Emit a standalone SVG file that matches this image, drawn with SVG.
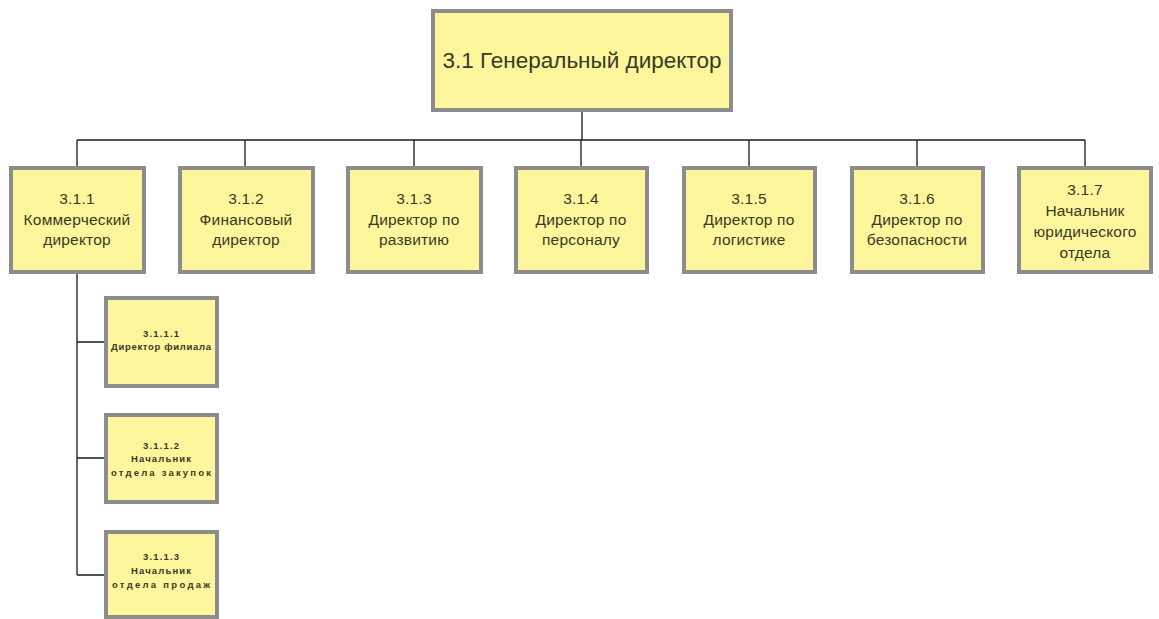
<svg xmlns="http://www.w3.org/2000/svg" width="1159" height="619" viewBox="0 0 1159 619">
<style>
.box{fill:#fdf69c;stroke:#8c8c8c;stroke-width:4}
.t{font-family:"Liberation Sans",Arial,sans-serif;fill:#3a3a24;text-anchor:middle}
.top{font-size:22.5px}
.mid{font-size:15.5px;letter-spacing:0.2px}
.sm{font-size:9.5px;font-weight:bold}
.ln{fill:none;stroke:#1a1a1a;stroke-width:1.3}
</style>
<rect width="1159" height="619" fill="#ffffff"/>
<g id="connectors">
<path class="ln" d="M582,110 V140 M77,140 H1085 M77,140 V167 M245,140 V167 M414,140 V167 M581,140 V167 M749,140 V167 M917,140 V167 M1085,140 V167"/>
<path class="ln" d="M77,272 V575 M77,342 H105 M77,458 H105 M77,575 H105"/>
</g>
<g id="n31">
<rect class="box" x="433" y="11" width="298" height="99"/>
<text class="t top" x="582" y="68">3.1 Генеральный директор</text>
</g>
<g id="n311">
<rect class="box" x="11" y="168" width="133" height="104"/>
<text class="t mid" x="77" y="204">3.1.1</text>
<text class="t mid" x="77" y="225">Коммерческий</text>
<text class="t mid" x="77" y="245">директор</text>
</g>
<g id="n312">
<rect class="box" x="180" y="168" width="133" height="104"/>
<text class="t mid" x="246" y="204">3.1.2</text>
<text class="t mid" x="246" y="225">Финансовый</text>
<text class="t mid" x="246" y="245">директор</text>
</g>
<g id="n313">
<rect class="box" x="348" y="168" width="133" height="104"/>
<text class="t mid" x="414" y="204">3.1.3</text>
<text class="t mid" x="414" y="225">Директор по</text>
<text class="t mid" x="414" y="245">развитию</text>
</g>
<g id="n314">
<rect class="box" x="516" y="168" width="131" height="104"/>
<text class="t mid" x="581" y="204">3.1.4</text>
<text class="t mid" x="581" y="225">Директор по</text>
<text class="t mid" x="581" y="245">персоналу</text>
</g>
<g id="n315">
<rect class="box" x="684" y="168" width="131" height="104"/>
<text class="t mid" x="749" y="204">3.1.5</text>
<text class="t mid" x="749" y="225">Директор по</text>
<text class="t mid" x="749" y="245">логистике</text>
</g>
<g id="n316">
<rect class="box" x="852" y="168" width="131" height="104"/>
<text class="t mid" x="917" y="204">3.1.6</text>
<text class="t mid" x="917" y="225">Директор по</text>
<text class="t mid" x="917" y="245">безопасности</text>
</g>
<g id="n317">
<rect class="box" x="1019" y="168" width="132" height="104"/>
<text class="t mid" x="1085" y="195">3.1.7</text>
<text class="t mid" x="1085" y="216">Начальник</text>
<text class="t mid" x="1085" y="237">юридического</text>
<text class="t mid" x="1085" y="258">отдела</text>
</g>
<g id="n3111">
<rect class="box" x="106" y="298" width="111" height="88"/>
<text class="t sm" x="161" y="337" textLength="36" lengthAdjust="spacing">3.1.1.1</text>
<text class="t sm" x="161" y="350" textLength="100" lengthAdjust="spacing">Директор филиала</text>
</g>
<g id="n3112">
<rect class="box" x="106" y="415" width="111" height="87"/>
<text class="t sm" x="161" y="449" textLength="36" lengthAdjust="spacing">3.1.1.2</text>
<text class="t sm" x="161" y="462" textLength="60" lengthAdjust="spacing">Начальник</text>
<text class="t sm" x="161" y="476" textLength="100" lengthAdjust="spacing">отдела закупок</text>
</g>
<g id="n3113">
<rect class="box" x="106" y="532" width="111" height="85"/>
<text class="t sm" x="161" y="560" textLength="36" lengthAdjust="spacing">3.1.1.3</text>
<text class="t sm" x="161" y="574" textLength="60" lengthAdjust="spacing">Начальник</text>
<text class="t sm" x="161" y="588" textLength="98" lengthAdjust="spacing">отдела продаж</text>
</g>
</svg>
